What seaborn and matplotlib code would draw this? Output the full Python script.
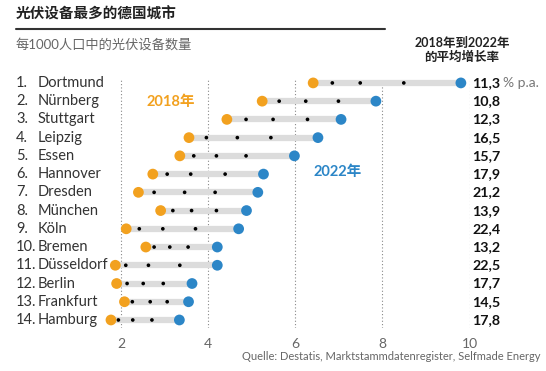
import pandas as pd
import seaborn as sns
import matplotlib.pyplot as plt

cities = ['Dortmund', 'Nürnberg', 'Stuttgart', 'Leipzig', 'Essen', 'Hannover', 'Dresden',
          'München', 'Köln', 'Bremen', 'Düsseldorf', 'Berlin', 'Frankfurt', 'Hamburg']
v2018 = [6.41, 5.24, 4.43, 3.56, 3.35, 2.73, 2.40, 2.91, 2.12, 2.57, 1.87, 1.90, 2.08, 1.77]
v2019 = [6.85, 5.63, 4.87, 3.96, 3.67, 3.06, 2.76, 3.19, 2.42, 2.76, 2.11, 2.14, 2.26, 1.94]
v2020 = [7.49, 6.24, 5.49, 4.67, 4.19, 3.60, 3.46, 3.62, 2.96, 3.12, 2.63, 2.51, 2.67, 2.27]
v2021 = [8.49, 6.99, 6.28, 5.44, 4.87, 4.39, 4.16, 4.19, 3.71, 3.54, 3.35, 2.97, 3.06, 2.71]
v2022 = [9.80, 7.85, 7.05, 6.52, 5.98, 5.27, 5.14, 4.88, 4.70, 4.21, 4.21, 3.63, 3.55, 3.34]
growth = ['11,3', '10,8', '12,3', '16,5', '15,7', '17,9', '21,2', '13,9', '22,4', '13,2',
          '22,5', '17,7', '14,5', '17,8']
xticks = [2, 4, 6, 8, 10]

orange = '#F2A11F'
blue = '#2C86C7'

sns.set_theme(style='white')
plt.rcParams['font.family'] = ['Lato', 'Noto Sans CJK SC', 'DejaVu Sans']

rows = []
for i, c in enumerate(cities):
    for yr, vals in [('2018', v2018), ('2019', v2019), ('2020', v2020), ('2021', v2021), ('2022', v2022)]:
        rows.append({'city': c, 'row': i, 'year': yr, 'value': vals[i]})
df = pd.DataFrame(rows)
mid = df[df['year'].isin(['2019', '2020', '2021'])]
ends = df[df['year'].isin(['2018', '2022'])]

fig = plt.figure(figsize=(5.46, 3.71), dpi=100)
ax = fig.add_axes([99.2 / 546, 43 / 371, 370.4 / 546, 250 / 371])

# grey range bars + dotted grid
ax.hlines(range(len(cities)), v2018, v2022, color='#dcdcdc', lw=4.5, zorder=1)
for x in xticks:
    ax.axvline(x, color='#888888', lw=0.8, ls=(0, (1, 2)), zorder=0)

sns.scatterplot(data=mid, x='value', y='row', color='black', s=7, edgecolor='none',
                ax=ax, zorder=3, legend=False, clip_on=False)
sns.scatterplot(data=ends, x='value', y='row', hue='year', palette={'2018': orange, '2022': blue},
                s=60, edgecolor='none', ax=ax, zorder=4, legend=False, clip_on=False)

ax.set_xlim(1.5, 10.0)
ax.set_ylim(13.44, -0.27)
ax.set_xticks(xticks)
ax.set_xticklabels([str(t) for t in xticks], color='#666666', fontsize=10)
ax.set_yticks([])
ax.tick_params(axis='x', length=0, pad=7)
ax.set_xlabel('')
ax.set_ylabel('')
for s in ax.spines.values():
    s.set_visible(False)

# city labels and growth rates
for i, c in enumerate(cities):
    y = 1 - (83 + i * 18.23) / 371
    fig.text(16 / 546, y, f'{i + 1}.', fontsize=10.5, color='#333333', va='center', ha='left')
    fig.text(38 / 546, y, c, fontsize=10.5, color='#333333', va='center', ha='left')
    t = fig.text(472 / 546, y, growth[i], fontsize=10.3, color='#111111', weight='bold',
                 va='center', ha='left')
    if i == 0:
        ax.annotate('% p.a.', xy=(1, 0.5), xycoords=t, xytext=(2, 0), textcoords='offset points',
                    fontsize=10, color='#777777', va='center', ha='left')

ax.text(3.15, 1.05, '2018年', color=orange, fontsize=10.5, weight='bold', va='center', ha='center')
ax.text(6.98, 4.87, '2022年', color=blue, fontsize=10.5, weight='bold', va='center', ha='center')

fig.text(16 / 546, 1 - 14 / 371, '光伏设备最多的德国城市', fontsize=10.5, weight='bold',
         color='#222222', va='center', ha='left')
fig.add_artist(plt.Line2D([16 / 546, 385 / 546], [1 - 29 / 371, 1 - 29 / 371], color='#333333', lw=1.5))
fig.text(16 / 546, 1 - 44 / 371, '每1000人口中的光伏设备数量', fontsize=9.5, color='#666666',
         va='center', ha='left')
fig.text(462 / 546, 1 - 50 / 371, '2018年到2022年\n的平均增长率', fontsize=9, weight='bold',
         color='#222222', va='center', ha='center', linespacing=1.2)
fig.text(540 / 546, 1 - 357 / 371, 'Quelle: Destatis, Marktstammdatenregister, Selfmade Energy',
         fontsize=8, color='#666666', va='center', ha='right')

fig.savefig('out.png', dpi=100, facecolor='white')
